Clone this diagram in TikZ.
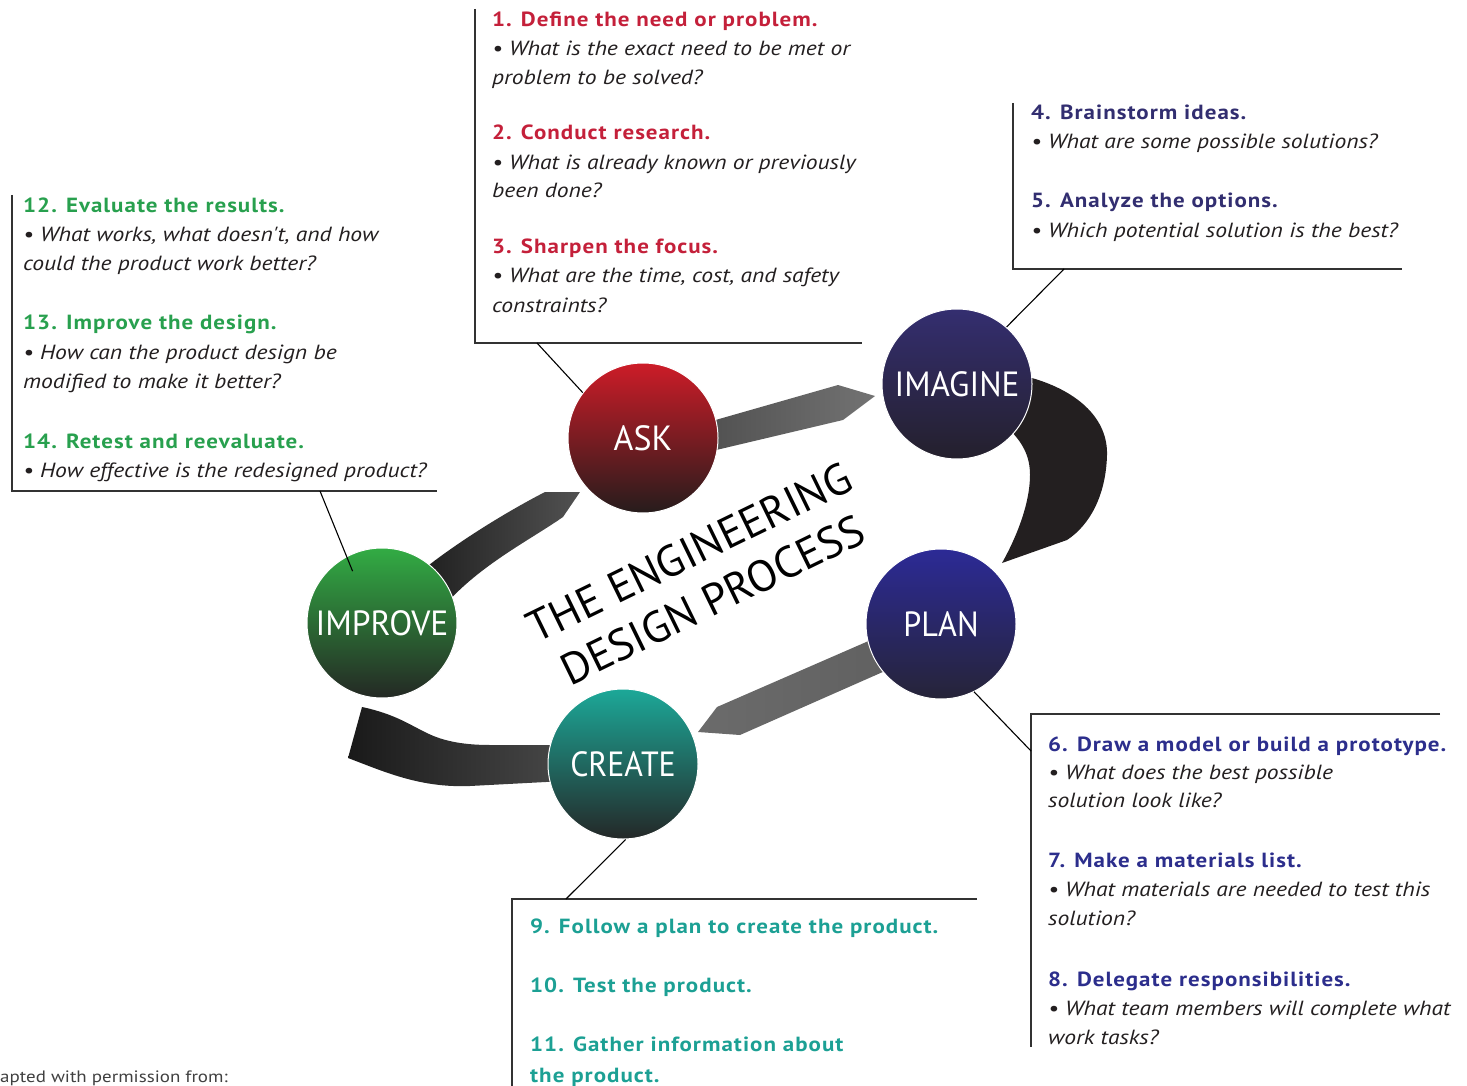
\documentclass[tikz,border=0pt]{standalone}
\usepackage{fontspec}
\setmainfont{PT Sans}
\newfontfamily\hdfont{PT Sans}[FakeStretch=1.12,LetterSpace=5]
\newfontfamily\bdfont{PT Sans}[FakeStretch=1.15]
\definecolor{redhd}{RGB}{196,32,58}
\definecolor{navyhd}{RGB}{50,46,112}
\definecolor{bluehd}{RGB}{44,46,140}
\definecolor{greenhd}{RGB}{40,160,78}
\definecolor{tealhd}{RGB}{28,160,148}
\definecolor{bodytx}{RGB}{35,31,32}
\definecolor{frame}{RGB}{50,50,50}
\definecolor{askT}{RGB}{205,28,40}
\definecolor{askB}{RGB}{38,28,28}
\definecolor{imaT}{RGB}{52,46,112}
\definecolor{imaB}{RGB}{36,32,44}
\definecolor{planT}{RGB}{44,42,150}
\definecolor{planB}{RGB}{38,36,56}
\definecolor{creT}{RGB}{28,168,152}
\definecolor{creB}{RGB}{36,40,40}
\definecolor{impT}{RGB}{50,172,68}
\definecolor{impB}{RGB}{36,40,36}
\definecolor{blk}{RGB}{35,31,32}
\begin{document}
\begin{tikzpicture}[x=1pt,y=-1pt,
  hd/.style={anchor=base west,inner sep=0pt,font=\hdfont\fontsize{20.5}{24}\selectfont\bfseries},
  bd/.style={anchor=base west,inner sep=0pt,text=bodytx,font=\bdfont\fontsize{20.5}{24}\selectfont\itshape},
  stage/.style={circle,minimum size=150pt,inner sep=0pt,draw=white,line width=1pt,text=white,font=\fontsize{35}{40}\selectfont},
  frameline/.style={draw=frame,line width=1.8pt},
  conn/.style={draw=black,line width=1.1pt}]
\useasboundingbox (0,0) rectangle (1467,1086);
% ---------- connecting arrows ----------
\shade[left color=black!68,right color=black!55] (712,421) -- (838,385) -- (875,396) -- (843,420) -- (712,451) -- cycle;
\fill[blk] (1020,372) -- (1032,378) .. controls (1080,392) and (1108,420) .. (1107,455) .. controls (1106,495) and (1090,525) .. (1067,540) -- (1002,563) .. controls (1015,540) and (1030,505) .. (1030,475) .. controls (1030,455) and (1022,442) .. (1008,428) -- cycle;
\shade[left color=black!58,right color=black!62] (880,636) -- (885,671) -- (740,735) -- (698,732) -- (717,707) -- cycle;
\shade[left color=black!90,right color=black!72] (362,707) .. controls (395,714) and (410,725) .. (425,732) .. controls (440,740) and (460,745) .. (490,745) -- (565,745) -- (565,781) -- (470,786) .. controls (420,788) and (385,772) .. (348,758) -- cycle;
\shade[left color=black!88,right color=black!68] (420,572) .. controls (460,540) and (510,510) .. (545,492) -- (580,492) -- (563,517) .. controls (530,540) and (480,565) .. (445,605) -- cycle;
% ---------- stages ----------
\node[stage,top color=askT,bottom color=askB] (ask) at (643,438) {\scalebox{0.97}[1]{ASK}};
\node[stage,top color=imaT,bottom color=imaB] (imagine) at (957,384) {\scalebox{0.95}[1]{IMAGINE}};
\node[stage,top color=planT,bottom color=planB] (plan) at (941,624) {\scalebox{0.92}[1]{PLAN}};
\node[stage,top color=creT,bottom color=creB] (create) at (623,764) {\scalebox{0.91}[1]{CREATE}};
\node[stage,top color=impT,bottom color=impB] (improve) at (382,623) {\scalebox{0.96}[1]{IMPROVE}};
% ---------- title ----------
\node[rotate=26,align=center,inner sep=0pt,font=\fontsize{44}{53}\selectfont] (title) at (701,576) {THE ENGINEERING\\DESIGN PROCESS};
% ---------- frames ----------
\draw[frameline] (475,9) -- (475,343) -- (862,343);
\draw[frameline] (1013,103) -- (1013,269) -- (1402,269);
\draw[frameline] (12,195) -- (12,491) -- (437,491);
\draw[frameline] (1440,714) -- (1031,714) -- (1031,1047);
\draw[frameline] (977,899) -- (512,899) -- (512,1086);
% ---------- connectors ----------
\coordinate (k1) at (537,343);
\coordinate (k2) at (1064,269);
\coordinate (k3) at (320,491);
\coordinate (k4) at (1031,751);
\coordinate (k5) at (566,899);
\draw[conn] (ask.143) -- (k1);
\draw[conn] (imagine.49) -- (k2);
\draw[conn,shorten >=-16pt] (k3) -- (improve.118);
\draw[conn] (plan.-64) -- (k4);
\draw[conn] (create.-88) -- (k5);
% ---------- box 1 ----------
\node[hd,text=redhd] (t1) at (492,27) {1. Define the need or problem.};
\node[bd] (t1a) at (492,56) {• What is the exact need to be met or};
\node[bd] (t1b) at (492,85) {problem to be solved?};
\node[hd,text=redhd] (t2) at (492,140) {2. Conduct research.};
\node[bd] (t2a) at (492,170) {• What is already known or previously};
\node[bd] (t2b) at (492,198) {been done?};
\node[hd,text=redhd] (t3) at (492,253) {3. Sharpen the focus.};
\node[bd] (t3a) at (492,282) {• What are the time, cost, and safety};
\node[bd] (t3b) at (492,312) {constraints?};
% ---------- box 2 ----------
\node[hd,text=navyhd] (t4) at (1031,120) {4. Brainstorm ideas.};
\node[bd] (t4a) at (1031,149) {• What are some possible solutions?};
\node[hd,text=navyhd] (t5) at (1031,208) {5. Analyze the options.};
\node[bd] (t5a) at (1031,237) {• Which potential solution is the best?};
% ---------- box 3 ----------
\node[hd,text=greenhd] (t12) at (23,213) {12. Evaluate the results.};
\node[bd] (t12a) at (23,242) {• What works, what doesn't, and how};
\node[bd] (t12b) at (23,270) {could the product work better?};
\node[hd,text=greenhd] (t13) at (23,329) {13. Improve the design.};
\node[bd] (t13a) at (23,359) {• How can the product design be};
\node[bd] (t13b) at (23,388) {modified to make it better?};
\node[hd,text=greenhd] (t14) at (23,448) {14. Retest and reevaluate.};
\node[bd] (t14a) at (23,477) {• How effective is the redesigned product?};
% ---------- box 4 ----------
\node[hd,text=bluehd] (t6) at (1048,751) {6. Draw a model or build a prototype.};
\node[bd] (t6a) at (1048,779) {• What does the best possible};
\node[bd] (t6b) at (1048,807) {solution look like?};
\node[hd,text=bluehd] (t7) at (1048,867) {7. Make a materials list.};
\node[bd] (t7a) at (1048,896) {• What materials are needed to test this};
\node[bd] (t7b) at (1048,925) {solution?};
\node[hd,text=bluehd] (t8) at (1048,986) {8. Delegate responsibilities.};
\node[bd] (t8a) at (1048,1015) {• What team members will complete what};
\node[bd] (t8b) at (1048,1044) {work tasks?};
% ---------- box 5 ----------
\node[hd,text=tealhd] (t9) at (530,933) {9. Follow a plan to create the product.};
\node[hd,text=tealhd] (t10) at (530,992) {10. Test the product.};
\node[hd,text=tealhd] (t11) at (530,1051) {11. Gather information about};
\node[hd,text=tealhd] (t11b) at (530,1082) {the product.};
% ---------- credit ----------
\node[anchor=base west,inner sep=0pt,text=black!75,font=\bdfont\fontsize{16.5}{19}\selectfont] (credit) at (0,1082) {apted with permission from:};
\end{tikzpicture}
\end{document}
